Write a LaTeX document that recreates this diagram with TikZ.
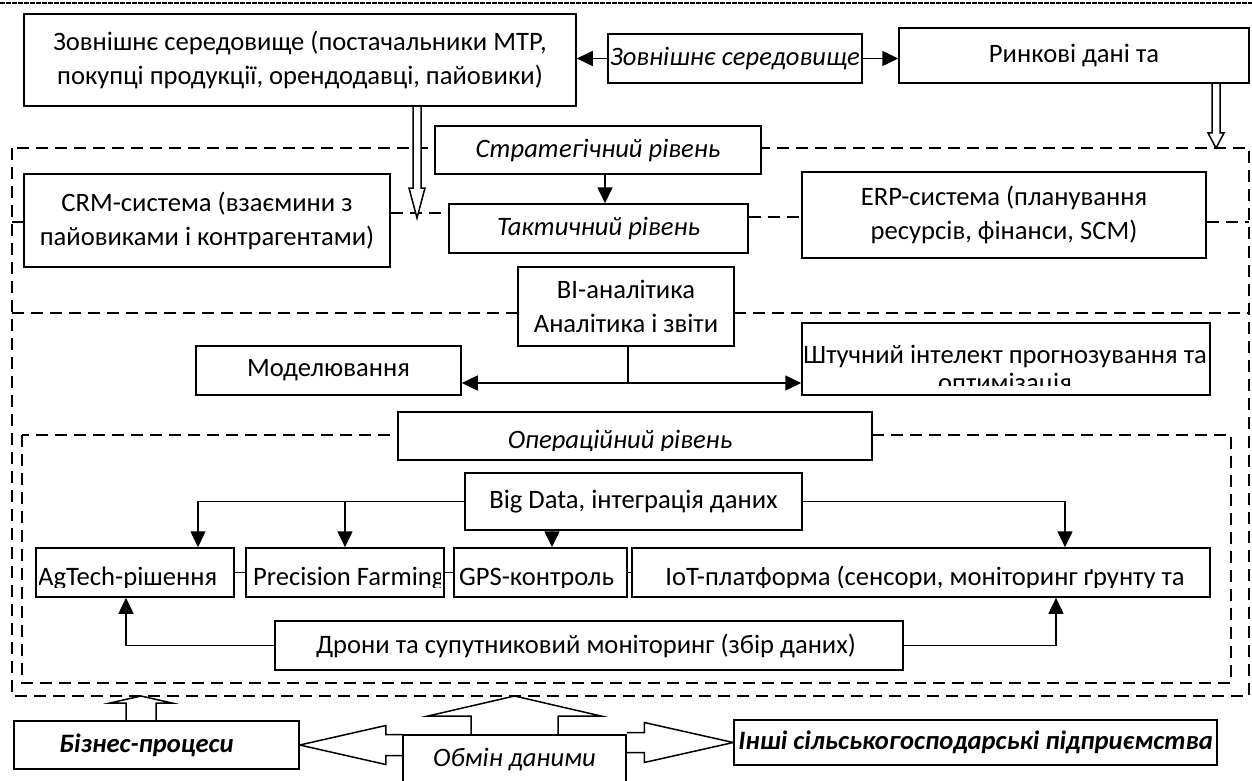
\documentclass[tikz,border=0pt]{standalone}
\usepackage{fontspec}
\setmainfont{Carlito}
\usetikzlibrary{arrows.meta,calc}
\pgfdeclarelayer{bg}
\pgfdeclarelayer{mid}
\pgfsetlayers{bg,mid,main}
% vertical hollow arrow: #1 start, #2 tip, #3 shaft half width, #4 head half width, #5 signed head length
\newcommand\harrowV[5]{\draw[hol] ($(#1)+(-#3,0)$) -- ($(#2)+(-#3,#5)$) -- ($(#2)+(-#4,#5)$) -- (#2) -- ($(#2)+(#4,#5)$) -- ($(#2)+(#3,#5)$) -- ($(#1)+(#3,0)$);}
% horizontal hollow arrow
\newcommand\harrowH[5]{\draw[hol] ($(#1)+(0,-#3)$) -- ($(#2)+(#5,-#3)$) -- ($(#2)+(#5,-#4)$) -- (#2) -- ($(#2)+(#5,#4)$) -- ($(#2)+(#5,#3)$) -- ($(#1)+(0,#3)$);}
% text clipped to the inner area of a box
\newcommand\ctxt[4]{\begin{scope}\clip ($(#1.north west)+(4,1)$) rectangle ($(#1.south east)+(-4,-10)$);\node[anchor=#2, inner sep=0pt] (#1-t) at (#3) {#4};\end{scope}}
\begin{document}
\begin{tikzpicture}[x=1pt,y=-1pt,
  every node/.style={font=\fontsize{26.6}{34}\selectfont},
  itf/.style={font=\fontsize{26.6}{34}\selectfont\itshape},
  bfi/.style={font=\fontsize{26.6}{34}\selectfont\bfseries\itshape},
  box/.style={draw, fill=white, line width=1.5pt, inner sep=0pt, align=center},
  arr/.style={line width=1.5pt, -{Triangle[length=16pt,width=15pt]}},
  ln/.style={line width=1.5pt},
  dsh/.style={line width=1.6pt, dash pattern=on 12pt off 7pt},
  hol/.style={draw, fill=white, line width=1.5pt, line join=miter},
]
\useasboundingbox (0,0) rectangle (1252,781);

% ---------- boxes ----------
\node[box, minimum width=552, minimum height=92] (ext) at (300,60) {Зовнішнє середовище (постачальники МТР,\\покупці продукції, орендодавці, пайовики)};
\node[box, itf, minimum width=254, minimum height=49] (extI) at (735,58.5) {Зовнішнє середовище};
\node[box, minimum width=350, minimum height=55] (mkt) at (1074,55.5) {Ринкові дані та};
\node[box, itf, minimum width=326, minimum height=48] (strat) at (598,150) {Стратегічний рівень};
\node[box, itf, minimum width=299, minimum height=49] (tact) at (598.5,228.5) {Тактичний рівень};
\node[box, minimum width=366, minimum height=93] (crm) at (207,220.5) {CRM-система (взаємини з\\пайовиками і контрагентами)};
\node[box, minimum width=404, minimum height=86] (erp) at (1004,215) {ERP-система (планування\\ресурсів, фінанси, SCM)};
\node[box, minimum width=216, minimum height=79] (bi) at (626,306.5) {BI-аналітика\\Аналітика і звіти};
\node[box, minimum width=265, minimum height=49] (model) at (328.5,370.5) {Моделювання};
\node[box, minimum width=408, minimum height=72] (ai) at (1006,359) {};
\ctxt{ai}{base}{1005,363}{Штучний інтелект прогнозування та}
\begin{scope}\clip ($(ai.north west)+(4,1)$) rectangle ($(ai.south east)+(-4,-10)$);
\node[anchor=base, inner sep=0pt] (ai-t2) at (1005,391) {оптимізація};\end{scope}
\node[box, minimum width=474, minimum height=48] (oper) at (635,436) {};
\ctxt{oper}{base}{620,448}{\itshape Операційний рівень}
\node[box, minimum width=337, minimum height=57] (big) at (633.5,501.5) {Big Data, інтеграція даних};
\node[box, minimum width=198, minimum height=49] (agt) at (135,572.5) {};
\ctxt{agt}{base west}{38,585}{AgTech-рішення}
\node[box, minimum width=198, minimum height=49] (prec) at (345,572.5) {};
\ctxt{prec}{base west}{253,585}{Precision Farming}
\node[box, minimum width=173, minimum height=49] (gps) at (540.5,572.5) {};
\ctxt{gps}{base west}{459,585}{GPS-контроль}
\node[box, minimum width=578, minimum height=49] (iot) at (921,572.5) {};
\ctxt{iot}{base}{925,585}{IoT-платформа (сенсори, моніторинг ґрунту та}
\node[box, minimum width=628, minimum height=49] (dron) at (589,645.5) {};
\ctxt{dron}{base}{586,653}{Дрони та супутниковий моніторинг (збір даних)}
\node[box, bfi, minimum width=285, minimum height=48] (biz) at (156.5,745) {Бізнес-процеси\hspace*{20pt}};
\node[box, itf, minimum width=223, minimum height=50] (obm) at (514.5,760) {Обмін даними};
\node[box, bfi, minimum width=483, minimum height=45] (inshi) at (975.5,742.5) {Інші сільськогосподарські підприємства};

% ---------- background: frames and dashed links ----------
\begin{pgfonlayer}{bg}
\draw[line width=2.5pt, dash pattern=on 5pt off 1pt] (0,3) -- (1252,3);
\draw[dsh] (12,148) rectangle (1249,696);
\draw[dsh] (12,313) -- (1249,313);
\draw[dsh] (22,435) rectangle (1231,683);
\draw[dsh] (crm.east |- 0,213) -- (tact.west |- 0,213);
\draw[dsh] (tact.east |- 0,217) -- (erp.west |- 0,217);
\coordinate (rb) at (1249,222);
\coordinate (lb) at (12,222);
\draw[dsh] (erp.east |- rb) -- (rb);
\draw[ln] (lb) -- (crm.west |- lb);
\end{pgfonlayer}

% ---------- hollow arrows ----------
\begin{pgfonlayer}{mid}
\coordinate (h1a) at (ext.south -| 417,0);
\coordinate (h1b) at (417,218);
\harrowV{h1a}{h1b}{4}{8}{-30}
\coordinate (h2a) at (mkt.south -| 1216,0);
\coordinate (h2b) at (1216,148);
\harrowV{h2a}{h2b}{4}{8}{-15}
\coordinate (hba) at (biz.north -| 141,0);
\coordinate (hbb) at (141,696);
\harrowV{hba}{hbb}{15}{31}{7}
\coordinate (hoa) at (obm.north);
\coordinate (hob) at (obm.north |- 0,696);
\harrowV{hoa}{hob}{43.5}{86.5}{20}
\coordinate (hla) at (obm.west |- biz.east);
\harrowH{hla}{biz.east}{10.5}{19.5}{86}
\coordinate (hra) at (obm.east |- inshi.west);
\harrowH{hra}{inshi.west}{10}{20}{-89}
\end{pgfonlayer}

% ---------- arrows ----------
\draw[arr] (extI.west) -- (extI.west -| ext.east);
\draw[arr] (extI.east) -- (extI.east -| mkt.west);
\draw[arr] (strat.south -| 605,0) -- (tact.north -| 605,0);
\coordinate (bj) at (628,383);
\draw[ln] (bi.south -| bj) -- (bj);
\draw[arr] (bj) -- (bj -| model.east);
\draw[arr] (bj) -- (bj -| ai.west);
\draw[arr] (big.west) -| (agt.north -| 198,0);
\draw[arr] (prec.north |- big.west) -- (prec.north);
\draw[arr] (big.south -| 552,0) -- (gps.north -| 552,0);
\draw[arr] (big.east) -| (iot.north -| 1065,0);
\draw[arr] (dron.west) -| (agt.south -| 126,0);
\draw[arr] (dron.east) -| (iot.south -| 1056,0);
\draw[ln] (agt.east) -- (prec.west);
\draw[ln] (prec.east) -- (gps.west);
\draw[ln] (gps.east) -- (iot.west);
\end{tikzpicture}
\end{document}
